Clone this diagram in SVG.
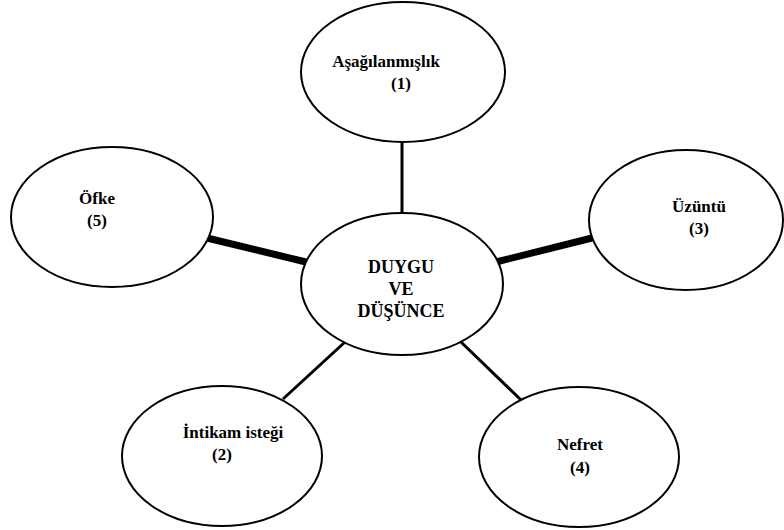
<svg xmlns="http://www.w3.org/2000/svg" width="784" height="530" viewBox="0 0 784 530">
<style>
.n{fill:#fff;stroke:#000;stroke-width:2}
.t{font-family:"Liberation Serif","Times New Roman",serif;font-weight:bold;font-size:17px;fill:#000;text-anchor:middle}
.c{font-size:18px}
.thin{stroke:#000;stroke-width:3;fill:none}
.thick{stroke:#000;stroke-width:7;fill:none}
</style>
<rect width="784" height="530" fill="#fff"/>
<g id="connectors">
<line class="thin" x1="402" y1="141" x2="402" y2="214"/>
<line class="thick" x1="496" y1="262" x2="592" y2="238"/>
<line class="thick" x1="207" y1="238" x2="306" y2="262"/>
<line class="thin" x1="345" y1="342" x2="283" y2="399"/>
<line class="thin" x1="461" y1="342" x2="521" y2="400"/>
</g>
<g id="n1"><ellipse class="n" cx="403" cy="72" rx="102" ry="70"/><text class="t" x="386" y="67">Aşağılanmışlık</text><text class="t" x="401" y="89">(1)</text></g>
<g id="center"><ellipse class="n" cx="402" cy="284" rx="101" ry="71"/><text class="t c" x="401" y="273">DUYGU</text><text class="t c" x="401" y="295">VE</text><text class="t c" x="401" y="317">DÜŞÜNCE</text></g>
<g id="n3"><ellipse class="n" cx="686" cy="220" rx="97" ry="70"/><text class="t" x="699" y="212">Üzüntü</text><text class="t" x="699" y="234">(3)</text></g>
<g id="n5"><ellipse class="n" cx="112" cy="217" rx="101" ry="70"/><text class="t" x="97" y="204">Öfke</text><text class="t" x="97" y="226">(5)</text></g>
<g id="n2"><ellipse class="n" cx="222" cy="456" rx="100" ry="70"/><text class="t" x="233" y="438">İntikam isteği</text><text class="t" x="222" y="460">(2)</text></g>
<g id="n4"><ellipse class="n" cx="579" cy="457" rx="100" ry="70"/><text class="t" x="580" y="450">Nefret</text><text class="t" x="580" y="473">(4)</text></g>
</svg>
